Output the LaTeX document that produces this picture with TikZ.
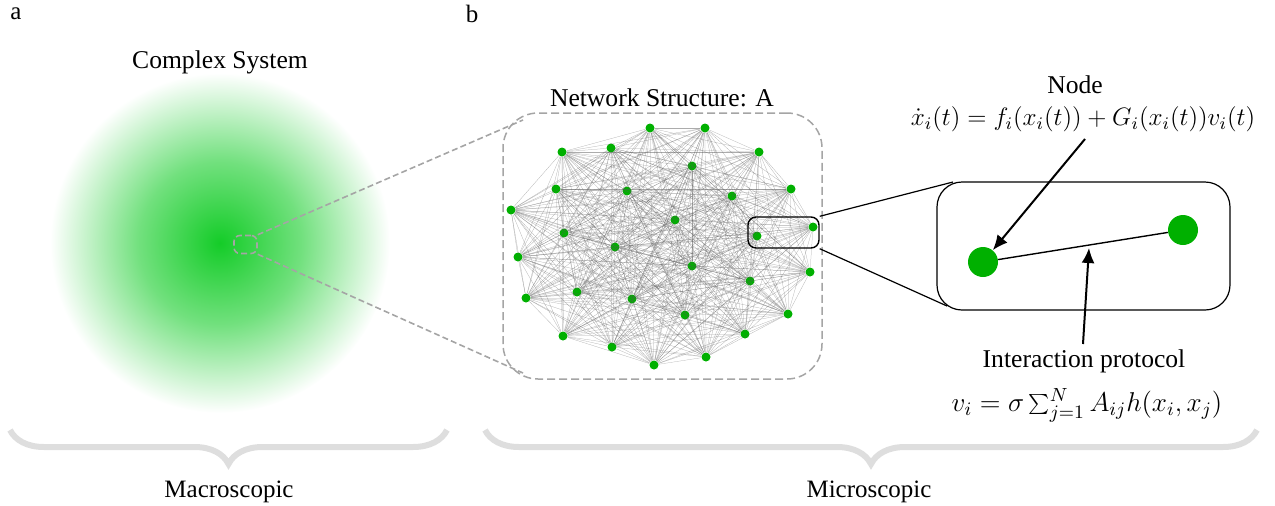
\documentclass[tikz,border=0pt]{standalone}
\usepackage{fix-cm}
\usepackage{fontspec}
\setmainfont{Liberation Serif}
\usepackage{tikz}
\usetikzlibrary{arrows.meta,decorations.pathreplacing}
\definecolor{glowgreen}{RGB}{20,204,40}
\definecolor{dotgreen}{RGB}{0,176,0}
\definecolor{boxgray}{RGB}{165,165,165}
\definecolor{bracegray}{RGB}{222,222,222}
\pgfdeclareradialshading{glow}{\pgfpoint{0bp}{0bp}}{%
  color(0bp)=(glowgreen); color(12bp)=(glowgreen!60); color(25bp)=(white); color(50bp)=(white)}
\tikzset{%
  label/.style = {font=\fontsize{12.5}{15}\selectfont, inner sep=1pt},
  title/.style = {font=\fontsize{12.8}{15}\selectfont, inner sep=1pt},
  formula/.style = {font=\fontsize{12.6}{15}\selectfont, inner sep=0.5pt},
  dot/.style = {circle, fill=dotgreen, inner sep=0pt, minimum size=4.5pt},
  bigdot/.style = {circle, fill=dotgreen, inner sep=0pt, minimum size=15pt},
  link/.style = {draw=black!65, line width=0.12pt, opacity=0.5},
  zoombox/.style = {draw=boxgray, dashed, line width=0.8pt, dash pattern=on 3pt off 1.6pt},
  solidbox/.style = {draw, line width=0.7pt},
  pointer/.style = {draw, line width=1pt, -{Latex[length=7.5pt,width=6.5pt]}},
  scalebrace/.style = {draw=bracegray, line width=3pt,
    decorate, decoration={brace, mirror, amplitude=17pt}}
}

\begin{document}
\begin{tikzpicture}[x=0.5pt, y=-0.5pt]
\useasboundingbox (0,0) rectangle (1275,505);

\node[label] (tagA) at (16,14) {a};
\node[label] (tagB) at (472,14) {b};

\shade[shading=glow] (220,243) circle (170);
\node[title] (macro) at (220,62) {Complex System};
\node[zoombox, rounded corners=3pt, minimum width=11.5pt, minimum height=9pt,
  inner sep=0pt] (zoomA) at (245.5,244.5) {};

\node[zoombox, rounded corners=17.5pt, line width=0.75pt, dash pattern=on 4pt off 2pt,
  minimum width=159.5pt, minimum height=133pt, inner sep=0pt] (net) at (662.5,246) {};
\node[title] (netlabel) at (662,98) {Network Structure: A};
\coordinate (netTop) at (523,120);
\coordinate (netBot) at (523,373);
\draw[zoombox] (zoomA.north east) -- (netTop);
\draw[zoombox] (zoomA.south east) -- (netBot);

\foreach \n/\x/\y in {1/650/128, 2/705/128, 3/562/152, 4/611/148, 5/759/152,
  6/692/166, 7/556/189, 8/627/191, 9/732/196, 10/791/189, 11/511/210,
  12/675/220, 13/813/227, 14/564/233, 15/757/236, 16/615/247, 17/518/257,
  18/692/266, 19/810/272, 20/750/281, 21/577/292, 22/526/298, 23/632/299,
  24/685/315, 25/788/314, 26/563/336, 27/745/334, 28/612/347, 29/706/357,
  30/654/365}
  \node[dot] (n\n) at (\x,\y) {};

\foreach \i in {1,...,29} {
  \pgfmathtruncatemacro\k{\i+1}
  \foreach \j in {\k,...,30}
    \draw[link] (n\i) -- (n\j);
}

\node[solidbox, rounded corners=4pt, minimum width=35.5pt, minimum height=15.5pt,
  inner sep=0pt] (zoomB) at (783.5,232.5) {};

\node[solidbox, rounded corners=12.5pt, line width=0.6pt, minimum width=146.5pt,
  minimum height=64pt, inner sep=0pt] (pair) at (1083.5,246) {};
\coordinate (pairTop) at (953,182);
\coordinate (pairBot) at (947,306);
\draw[line width=0.6pt] (zoomB.north east) -- (pairTop);
\draw[line width=0.6pt] (zoomB.south east) -- (pairBot);

\node[bigdot] (u) at (983,262) {};
\node[bigdot] (w) at (1183,230) {};
\draw[line width=0.7pt] (u) -- (w);

\node[title] (nodelabel) at (1075,85) {Node};
\node[formula] (nodeeq) at (1083,119) {$\dot{x}_i(t) = f_i(x_i(t)) + G_i(x_i(t))v_i(t)$};
\coordinate (nodetail) at (1085,139);
\draw[pointer] (nodetail) -- (u);

\node[title] (protolabel) at (1084,361) {Interaction protocol};
\node[formula, font=\fontsize{13.6}{16}\selectfont] (protoeq) at (1087,405)
  {$v_i = \sigma\sum_{j=1}^{N} A_{ij}h(x_i,x_j)$};
\coordinate (prototail) at (1083,344);
\coordinate (protohead) at (1089,248);
\draw[pointer] (prototail) -- (protohead);

\coordinate (macroL) at (10,430);
\coordinate (macroR) at (447,430);
\coordinate (microL) at (485,430);
\coordinate (microR) at (1257,430);
\draw[scalebrace] (macroL) -- (macroR);
\draw[scalebrace] (microL) -- (microR);
\node[label] (macroscale) at (229,492) {Macroscopic};
\node[label] (microscale) at (869,492) {Microscopic};
\end{tikzpicture}
\end{document}
